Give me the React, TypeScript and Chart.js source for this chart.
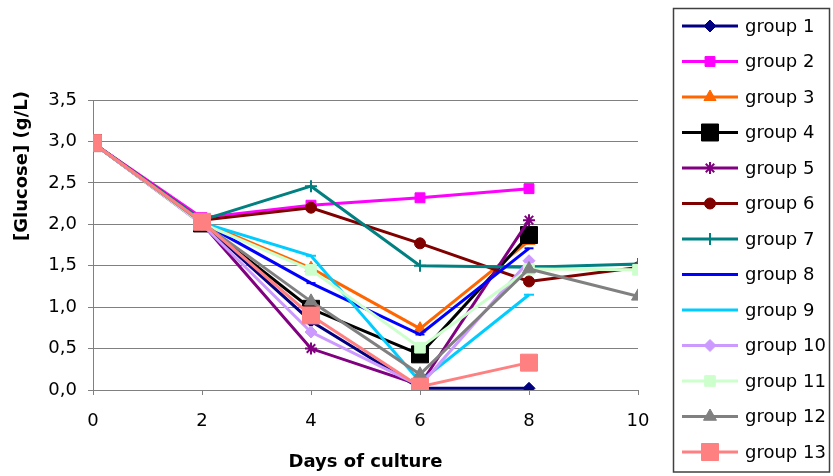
import React, { useEffect, useRef } from "react";
import { Chart, registerables } from "chart.js";
import { drawPoint } from "chart.js/helpers";

Chart.register(...registerables);

const days = [0, 2, 4, 6, 8, 10];
const seriesNames = [
  "group 1", "group 2", "group 3", "group 4", "group 5", "group 6", "group 7",
  "group 8", "group 9", "group 10", "group 11", "group 12", "group 13",
];
const group1 = [2.98, 2.02, 0.83, 0.02, 0.02];
const group2 = [2.98, 2.08, 2.23, 2.32, 2.43];
const group3 = [2.98, 2.03, 1.47, 0.74, 1.8];
const group4 = [2.98, 2.01, 0.98, 0.43, 1.87];
const group5 = [2.98, 2.01, 0.5, 0.06, 2.05];
const group6 = [2.98, 2.05, 2.2, 1.77, 1.31, 1.48];
const group7 = [2.98, 2.05, 2.46, 1.5, 1.48, 1.52];
const group8 = [2.98, 2.02, 1.29, 0.67, 1.71];
const group9 = [2.98, 2.02, 1.62, 0.1, 1.15];
const group10 = [2.98, 2.0, 0.7, 0.05, 1.56];
const group11 = [2.98, 2.01, 1.45, 0.51, 1.46, 1.45];
const group12 = [2.98, 2.02, 1.07, 0.19, 1.46, 1.13];
const group13 = [2.98, 2.03, 0.9, 0.04, 0.33];
const seriesValues = [
  group1, group2, group3, group4, group5, group6, group7,
  group8, group9, group10, group11, group12, group13,
];
const yTicks = [0, 0.5, 1, 1.5, 2, 2.5, 3, 3.5];
const xTicks = [0, 2, 4, 6, 8, 10];
const xTitle = "Days of culture";
const yTitle = "[Glucose] (g/L)";

const colors = [
  "#000080", "#FF00FF", "#FF6600", "#000000", "#800080", "#800000", "#008080",
  "#0000FF", "#00CCFF", "#CC99FF", "#CCFFCC", "#808080", "#FF8080",
];
const markers = [
  "rectRot", "rect", "triangle", "rect", "star", "circle", "cross",
  "line", "line", "rectRot", "rect", "triangle", "rect",
];
const markerRadius = [6, 7, 7, 12, 6, 5.5, 6, 4.5, 5, 6, 7.5, 7.5, 12];

const FONT = "'DejaVu Sans', sans-serif";

const overlayPlugin = {
  id: "overlay",
  afterDraw(chart: any) {
    const ctx = chart.ctx;
    ctx.save();
    ctx.translate(22, 166);
    ctx.rotate(-Math.PI / 2);
    ctx.font = `bold 18px ${FONT}`;
    ctx.fillStyle = "#000";
    ctx.textAlign = "center";
    ctx.textBaseline = "middle";
    ctx.fillText(yTitle, 0, 0);
    ctx.restore();

    ctx.save();
    ctx.strokeStyle = "#404040";
    ctx.lineWidth = 1.5;
    ctx.strokeRect(673.5, 8.5, 156, 463.5);
    ctx.font = `18px ${FONT}`;
    ctx.textAlign = "left";
    ctx.textBaseline = "middle";
    chart.data.datasets.forEach((ds: any, i: number) => {
      const y = 26 + i * 35.5;
      ctx.strokeStyle = ds.borderColor;
      ctx.lineWidth = 3;
      ctx.beginPath();
      ctx.moveTo(682, y);
      ctx.lineTo(738, y);
      ctx.stroke();
      ctx.fillStyle = ds.pointBackgroundColor;
      ctx.strokeStyle = ds.pointBorderColor;
      ctx.lineWidth = ds.pointBorderWidth;
      drawPoint(ctx, {
        pointStyle: ds.pointStyle,
        rotation: 0,
        radius: ds.pointRadius,
        borderWidth: ds.pointBorderWidth,
      }, 710, y);
      ctx.fillStyle = "#000";
      ctx.fillText(ds.label, 745, y + 1);
    });
    ctx.restore();
  },
};

export default function App() {
  const ref = useRef<HTMLCanvasElement>(null);
  useEffect(() => {
    if (!ref.current) return;
    const datasets = seriesNames.map((name, i) => ({
      label: name,
      data: seriesValues[i].map((v, j) => ({ x: days[j], y: v })),
      borderColor: colors[i],
      backgroundColor: colors[i],
      pointBackgroundColor: colors[i],
      pointBorderColor: colors[i],
      pointStyle: markers[i],
      pointRadius: markerRadius[i],
      pointBorderWidth: ["star", "cross", "line"].includes(markers[i]) ? 2 : 1,
      borderWidth: 3,
      tension: 0,
      fill: false,
      order: seriesNames.length - i,
    }));
    const chart = new Chart(ref.current, {
      type: "line",
      data: { datasets },
      plugins: [overlayPlugin],
      options: {
        animation: false,
        responsive: true,
        maintainAspectRatio: false,
        layout: { padding: { top: 100, right: 195, bottom: 0, left: 0 } },
        plugins: { legend: { display: false }, tooltip: { enabled: false } },
        scales: {
          x: {
            type: "linear",
            min: 0,
            max: 10,
            afterBuildTicks: (s: any) => { s.ticks = xTicks.map((v) => ({ value: v })); },
            afterFit: (s: any) => { s.height = 86; },
            ticks: { color: "#000", font: { family: FONT, size: 18 }, padding: 16 },
            grid: { display: true, drawOnChartArea: false, drawTicks: true, tickLength: 5, color: "#808080" },
            border: { display: true, color: "#808080", width: 1 },
            title: {
              display: true,
              text: xTitle,
              color: "#000",
              font: { family: FONT, size: 18, weight: "bold" },
              padding: { top: 0, bottom: 3 },
            },
          },
          y: {
            type: "linear",
            min: 0,
            max: 3.5,
            afterBuildTicks: (s: any) => { s.ticks = yTicks.map((v) => ({ value: v })); },
            afterFit: (s: any) => { s.width = 93; },
            ticks: {
              color: "#000",
              font: { family: FONT, size: 18 },
              padding: 11,
              callback: (v: any) => Number(v).toFixed(1).replace(".", ","),
            },
            grid: { color: "#808080", tickLength: 5, drawTicks: true },
            border: { display: true, color: "#808080", width: 1 },
          },
        },
      } as any,
    });
    return () => chart.destroy();
  }, []);
  return (
    <div style={{ position: "absolute", left: 0, top: 0, width: 833, height: 476, overflow: "hidden", background: "#fff" }}>
      <canvas ref={ref} />
    </div>
  );
}
